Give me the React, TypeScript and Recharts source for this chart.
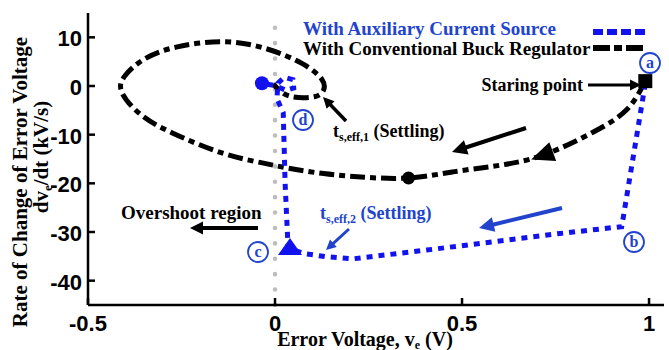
import { ComposedChart, Line, Scatter, XAxis, YAxis, ReferenceLine } from "recharts";

// phase-plane trajectories: error voltage (V) vs rate of change (kV/s)
const conventionalPath = [
  { x: 0.99, y: 1 },
  { x: 0.94, y: -4.9 },
  { x: 0.85, y: -9.5 },
  { x: 0.72, y: -14.1 },
  { x: 0.6, y: -16.3 },
  { x: 0.48, y: -17.6 },
  { x: 0.357, y: -18.9 },
  { x: 0.23, y: -18.7 },
  { x: 0.13, y: -18.0 },
  { x: 0.037, y: -16.9 },
  { x: -0.034, y: -15.8 },
  { x: -0.14, y: -13.8 },
  { x: -0.273, y: -9.7 },
  { x: -0.36, y: -5.8 },
  { x: -0.41, y: -1.2 },
  { x: -0.4, y: 2.2 },
  { x: -0.35, y: 5.5 },
  { x: -0.264, y: 8.0 },
  { x: -0.14, y: 9.1 },
  { x: -0.025, y: 7.7 },
  { x: 0.073, y: 4.6 },
  { x: 0.125, y: 1.4 },
  { x: 0.13, y: -0.8 },
  { x: 0.105, y: -2.2 },
  { x: 0.046, y: -2.2 },
  { x: 0.012, y: -0.9 },
  { x: -0.005, y: 0.4 },
];

const auxiliaryPath = [
  { x: 0.99, y: 0.5 },
  { x: 0.927, y: -28.9 },
  { x: 0.762, y: -30.3 },
  { x: 0.584, y: -32.0 },
  { x: 0.406, y: -33.7 },
  { x: 0.21, y: -35.5 },
  { x: 0.138, y: -35.1 },
  { x: 0.076, y: -34.4 },
  { x: 0.035, y: -33.3 },
  { x: 0.027, y: -20 },
  { x: 0.022, y: -5.5 },
  { x: 0.005, y: -2.6 },
  { x: 0.008, y: 0.6 },
  { x: 0.025, y: 1.8 },
  { x: 0.048, y: 1.3 },
  { x: 0.05, y: -0.4 },
  { x: 0.03, y: -0.9 },
  { x: 0.0, y: 0.1 },
  { x: -0.035, y: 0.55 },
];

const startPoint = [{ x: 0.99, y: 1 }];
const conventionalArrow = [{ x: 0.72, y: -14.1 }];
const conventionalDot = [{ x: 0.357, y: -18.9 }];
const auxiliaryArrow = [{ x: 0.04, y: -33.7 }];
const auxiliaryEnd = [{ x: -0.035, y: 0.55 }];

const xTicks = [-0.5, 0, 0.5, 1];
const yTicks = [10, 0, -10, -20, -30, -40];

const BLUE = "#1212ee";
const TEXT_BLUE = "#2244cc";
const SERIF = "'Liberation Serif', 'Times New Roman', serif";
const SANS = "'Liberation Sans', Arial, Helvetica, sans-serif";
const TICK_FONT = 22;

// Arial-bold advance widths, so tick labels keep the narrow look
const tickWidth = (s: string) =>
  s.split("").reduce((w, c) => w + (c === "-" ? 0.333 : c === "." ? 0.278 : 0.556), 0) * TICK_FONT;

const TickText = ({ x, y, anchor, value }: any) => {
  const s = String(value);
  return (
    <text
      x={x}
      y={y}
      textAnchor={anchor}
      fontFamily={SANS}
      fontWeight="bold"
      fontSize={TICK_FONT}
      fill="#000"
      textLength={tickWidth(s)}
      lengthAdjust="spacingAndGlyphs"
    >
      {s}
    </text>
  );
};

const BottomTick = ({ x, y, payload }: any) => (
  <g>
    <line x1={x} x2={x} y1={y} y2={y - 7} stroke="#000" strokeWidth={2.5} />
    <TickText x={x} y={y + 26} anchor="middle" value={payload.value} />
  </g>
);
const TopTick = ({ x, y }: any) => (
  <line x1={x} x2={x} y1={y} y2={y + 7} stroke="#000" strokeWidth={2.5} />
);
const LeftTick = ({ x, y, payload }: any) => (
  <g>
    <line x1={x} x2={x + 7} y1={y} y2={y} stroke="#000" strokeWidth={2.5} />
    <TickText x={x - 6} y={y + 9} anchor="end" value={payload.value} />
  </g>
);
const RightTick = ({ x, y }: any) => (
  <line x1={x} x2={x - 7} y1={y} y2={y} stroke="#000" strokeWidth={2.5} />
);

const SquareMark = ({ cx, cy }: any) => <rect x={cx - 7} y={cy - 7} width={14} height={14} fill="#000" />;
const DotMark = ({ cx, cy, fill }: any) => <circle cx={cx} cy={cy} r={fill === BLUE ? 7 : 6.5} fill={fill} />;
const HeadMark = ({ cx, cy }: any) => {
  const a = (160 * Math.PI) / 180;
  const ux = Math.cos(a), uy = Math.sin(a);
  const tip = [cx + ux * 14, cy + uy * 14];
  const b1 = [cx - ux * 9 - uy * 10, cy - uy * 9 + ux * 10];
  const b2 = [cx - ux * 9 + uy * 10, cy - uy * 9 - ux * 10];
  return <polygon points={`${tip} ${b1} ${b2}`} fill="#000" />;
};
const UpMark = ({ cx, cy }: any) => (
  <polygon points={`${cx},${cy - 12} ${cx - 12},${cy + 5} ${cx + 12},${cy + 5}`} fill={BLUE} />
);

const Arrow = ({ x1, y1, x2, y2, color, w, head }: any) => {
  const a = Math.atan2(y2 - y1, x2 - x1);
  const bx = x2 - Math.cos(a) * head, by = y2 - Math.sin(a) * head;
  const px = -Math.sin(a) * head * 0.5, py = Math.cos(a) * head * 0.5;
  return (
    <g>
      <line x1={x1} y1={y1} x2={bx + Math.cos(a) * 2} y2={by + Math.sin(a) * 2} stroke={color} strokeWidth={w} />
      <polygon points={`${x2},${y2} ${bx + px},${by + py} ${bx - px},${by - py}`} fill={color} />
    </g>
  );
};

const Tag = ({ x, y, t }: any) => (
  <g>
    <circle cx={x} cy={y} r={10} fill="#fff" stroke={TEXT_BLUE} strokeWidth={1.8} />
    <text x={x} y={y + 5} textAnchor="middle" fontFamily={SERIF} fontWeight="bold" fontSize={16} fill={TEXT_BLUE}>
      {t}
    </text>
  </g>
);

const Overlay = () => (
  <svg width={669} height={350} style={{ position: "absolute", left: 0, top: 0, pointerEvents: "none" }}>
    {/* legend */}
    <text x={303} y={35} fontFamily={SERIF} fontWeight="bold" fontSize={19} fill={TEXT_BLUE}>
      With Auxiliary Current Source
    </text>
    <text x={303} y={55} fontFamily={SERIF} fontWeight="bold" fontSize={19} fill="#000">
      With Conventional Buck Regulator
    </text>
    <line x1={593} x2={645} y1={32} y2={32} stroke={BLUE} strokeWidth={6} strokeDasharray="10 4" />
    <line x1={593} x2={644} y1={48} y2={48} stroke="#000" strokeWidth={6} strokeDasharray="17 4 8 4" />

    {/* y label */}
    <text transform="translate(27,182) rotate(-90)" textAnchor="middle" fontFamily={SERIF} fontWeight="bold" fontSize={21} fill="#000">
      Rate of Change of Error Voltage
    </text>
    <text transform="translate(48,157) rotate(-90)" textAnchor="middle" fontFamily={SERIF} fontWeight="bold" fontSize={21} fill="#000">
      dv<tspan fontSize={13} dy={4}>e</tspan>
      <tspan dy={-4}>/dt (kV/s)</tspan>
    </text>
    {/* x label */}
    <text x={365} y={346} textAnchor="middle" fontFamily={SERIF} fontWeight="bold" fontSize={20} fill="#000">
      Error Voltage, v<tspan fontSize={12} dy={3}>e</tspan>
      <tspan dy={-3}> (V)</tspan>
    </text>

    {/* annotations */}
    <text x={583} y={91} textAnchor="end" fontFamily={SERIF} fontWeight="bold" fontSize={18} fill="#000">
      Staring point
    </text>
    <Arrow x1={588} y1={85} x2={641} y2={85} color="#000" w={3} head={11} />

    <text x={333} y={137} fontFamily={SERIF} fontWeight="bold" fontSize={18} fill="#000">
      t<tspan fontSize={12} dy={4}>s,eff,1</tspan>
      <tspan dy={-4}> (Settling)</tspan>
    </text>
    <Arrow x1={346} y1={121} x2={323} y2={97} color="#000" w={3.5} head={11} />
    <Arrow x1={526} y1={128} x2={452} y2={152} color="#000" w={4} head={15} />

    <text x={121} y={219} fontFamily={SERIF} fontWeight="bold" fontSize={19} fill="#000">
      Overshoot region
    </text>
    <Arrow x1={258} y1={228} x2={190} y2={228} color="#000" w={4} head={13} />

    <text x={320} y={219} fontFamily={SERIF} fontWeight="bold" fontSize={18} fill={TEXT_BLUE}>
      t<tspan fontSize={12} dy={4}>s,eff,2</tspan>
      <tspan dy={-4}> (Settling)</tspan>
    </text>
    <Arrow x1={349} y1={229} x2={326} y2={250} color={TEXT_BLUE} w={3} head={10} />
    <Arrow x1={562} y1={208} x2={479} y2={228} color={TEXT_BLUE} w={4} head={15} />

    <Tag x={650} y={63} t="a" />
    <Tag x={634} y={242} t="b" />
    <Tag x={258} y={252} t="c" />
    <Tag x={303} y={120} t="d" />
  </svg>
);

export default function App() {
  return (
    <div style={{ position: "absolute", left: 0, top: 0, width: 669, height: 350, background: "#fff" }}>
      <ComposedChart width={669} height={350} margin={{ top: 13, right: 5, bottom: 15, left: 28 }}>
        <XAxis
          dataKey="x"
          type="number"
          domain={[-0.5, 1.04]}
          ticks={xTicks}
          allowDataOverflow
          height={30}
          tickSize={0}
          tickMargin={0}
          tickLine={false}
          axisLine={{ stroke: "#000", strokeWidth: 2.5 }}
          tick={<BottomTick />}
        />
        <XAxis
          xAxisId="top"
          orientation="top"
          dataKey="x"
          type="number"
          domain={[-0.5, 1.04]}
          ticks={xTicks}
          allowDataOverflow
          height={0}
          tickSize={0}
          tickMargin={0}
          tickLine={false}
          axisLine={{ stroke: "#000", strokeWidth: 2.5 }}
          tick={<TopTick />}
        />
        <YAxis
          dataKey="y"
          type="number"
          domain={[-45, 15]}
          ticks={yTicks}
          allowDataOverflow
          width={60}
          tickSize={0}
          tickMargin={0}
          tickLine={false}
          axisLine={{ stroke: "#000", strokeWidth: 2.5 }}
          tick={<LeftTick />}
        />
        <YAxis
          yAxisId="right"
          orientation="right"
          dataKey="y"
          type="number"
          domain={[-45, 15]}
          ticks={yTicks}
          allowDataOverflow
          width={0}
          tickSize={0}
          tickMargin={0}
          tickLine={false}
          axisLine={{ stroke: "#000", strokeWidth: 2.5 }}
          tick={<RightTick />}
        />
        <ReferenceLine x={0} stroke="#bdbdbd" strokeWidth={4.5} strokeDasharray="0.1 15.3" strokeLinecap="round" />
        <Line
          data={conventionalPath}
          dataKey="y"
          type="natural"
          stroke="#000"
          strokeWidth={5}
          strokeDasharray="15 5 6 5"
          dot={false}
          activeDot={false}
          isAnimationActive={false}
        />
        <Line
          data={auxiliaryPath}
          dataKey="y"
          type="linear"
          stroke={BLUE}
          strokeWidth={5}
          strokeDasharray="6 6"
          dot={false}
          activeDot={false}
          isAnimationActive={false}
        />
        <Scatter data={startPoint} dataKey="y" shape={<SquareMark />} isAnimationActive={false} />
        <Scatter data={conventionalArrow} dataKey="y" shape={<HeadMark />} isAnimationActive={false} />
        <Scatter data={conventionalDot} dataKey="y" fill="#000" shape={<DotMark />} isAnimationActive={false} />
        <Scatter data={auxiliaryArrow} dataKey="y" shape={<UpMark />} isAnimationActive={false} />
        <Scatter data={auxiliaryEnd} dataKey="y" fill={BLUE} shape={<DotMark />} isAnimationActive={false} />
      </ComposedChart>
      <Overlay />
    </div>
  );
}
